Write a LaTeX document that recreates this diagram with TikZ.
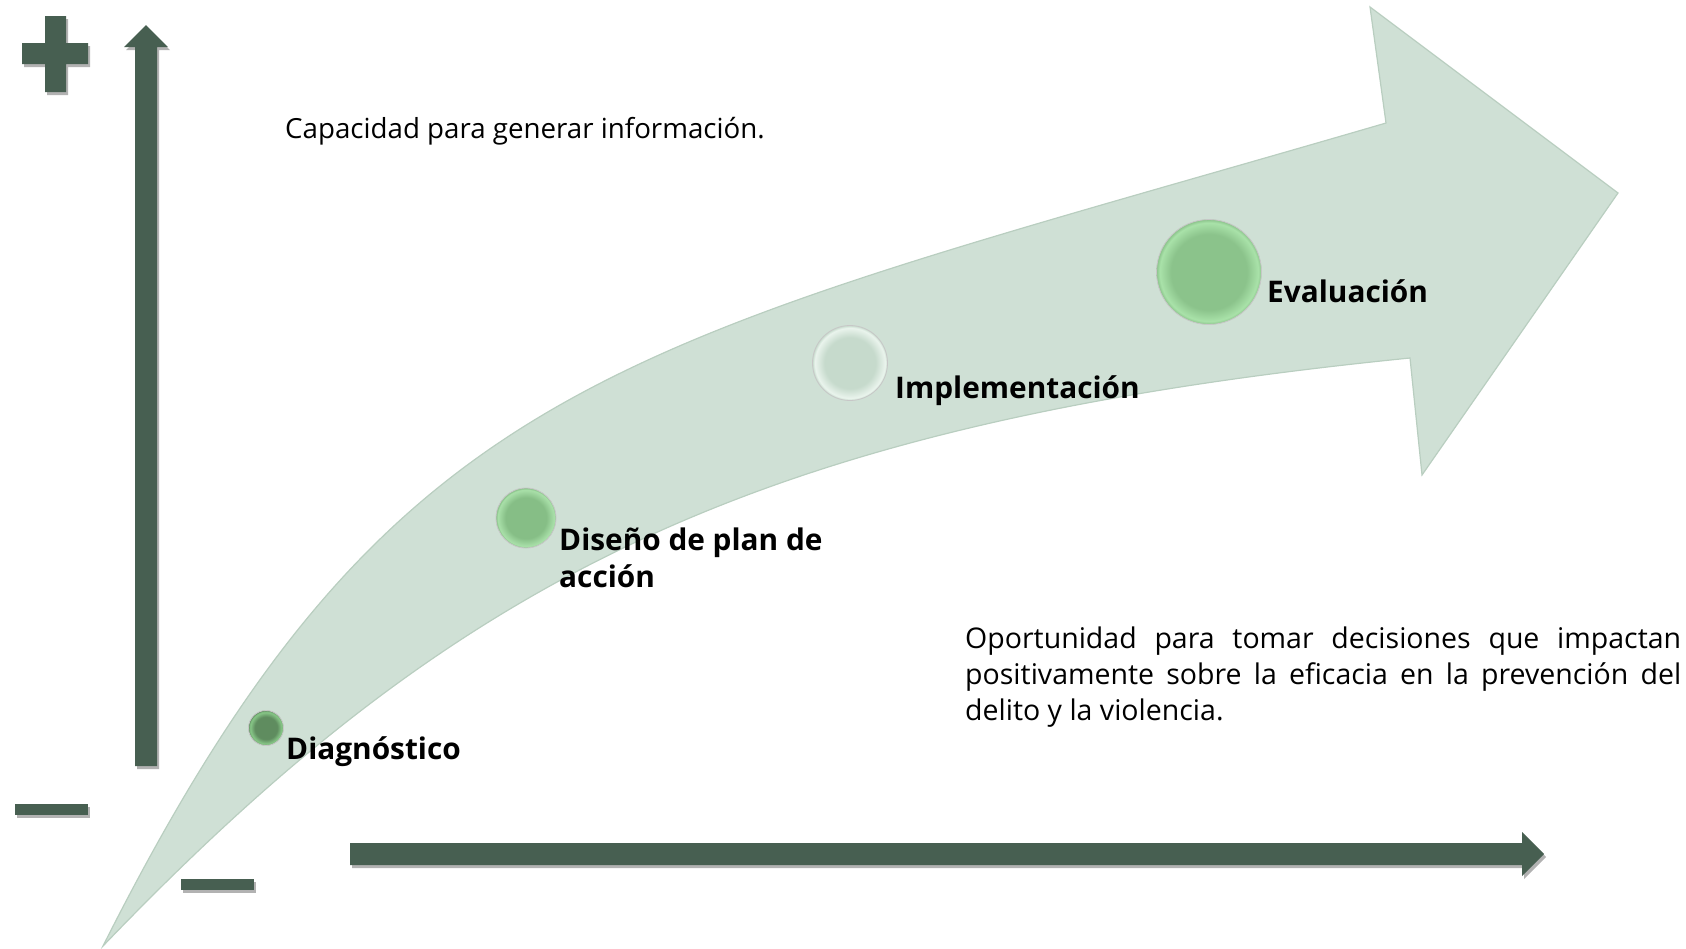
\documentclass[tikz,border=0pt]{standalone}
\usepackage{fontspec}
\setmainfont{Open Sans}
\usetikzlibrary{shadows}
\hyphenpenalty=10000
\exhyphenpenalty=10000
\definecolor{axisgreen}{HTML}{475F51}
\definecolor{bandgreen}{HTML}{CFE0D5}
\definecolor{bandedge}{HTML}{B9CEC0}
\definecolor{dotAin}{HTML}{5F8C5F}
\definecolor{dotAout}{HTML}{8ACB8A}
\definecolor{dotBin}{HTML}{86BE86}
\definecolor{dotBout}{HTML}{A9E0A9}
\definecolor{dotCin}{HTML}{C6DACC}
\definecolor{dotCout}{HTML}{EAF4ED}
\definecolor{dotDin}{HTML}{8BC38B}
\definecolor{dotDout}{HTML}{A9E2A9}
\pgfdeclareradialshading{dotAshade}{\pgfpoint{0bp}{0bp}}{color(0bp)=(dotAin); color(16bp)=(dotAin); color(23bp)=(dotAout); color(25bp)=(dotAin); color(50bp)=(dotAin)}
\pgfdeclareradialshading{dotBshade}{\pgfpoint{0bp}{0bp}}{color(0bp)=(dotBin); color(17bp)=(dotBin); color(23.5bp)=(dotBout); color(25bp)=(dotBin); color(50bp)=(dotBin)}
\pgfdeclareradialshading{dotCshade}{\pgfpoint{0bp}{0bp}}{color(0bp)=(dotCin); color(17bp)=(dotCin); color(23.5bp)=(dotCout); color(25bp)=(dotCin); color(50bp)=(dotCin)}
\pgfdeclareradialshading{dotDshade}{\pgfpoint{0bp}{0bp}}{color(0bp)=(dotDin); color(18bp)=(dotDin); color(23.5bp)=(dotDout); color(25bp)=(dotDin); color(50bp)=(dotDin)}
\tikzset{
  axisshape/.style={fill=axisgreen, drop shadow={opacity=0.3, shadow xshift=2pt, shadow yshift=-3pt, fill=black}},
  stepdot/.style={circle, inner sep=0pt, minimum size=#1, draw=black!22, line width=0.8pt},
  steplabel/.style={anchor=base west, inner sep=0pt, font=\fontsize{29.8}{37}\selectfont\bfseries, align=left},
  plaintext/.style={anchor=base west, inner sep=0pt, font=\fontsize{27.7}{36}\selectfont}
}
\begin{document}
\begin{tikzpicture}[x=1pt, y=-1pt]
\useasboundingbox (0,0) rectangle (1686,948);
% band arrow
\fill[bandgreen, draw=bandedge, line width=1.2pt]
  (103,946) .. controls (394,368) and (618,347) .. (1386,123)
  -- (1370,7) -- (1618,193) -- (1422,475) -- (1410,358)
  .. controls (763,423) and (462,572) .. (103,946)
  -- cycle;
% axes
\path[axisshape] (45,16) -- (66,16) -- (66,43) -- (88,43) -- (88,64) -- (66,64) -- (66,92) -- (45,92) -- (45,64) -- (22,64) -- (22,43) -- (45,43) -- cycle;
\path[axisshape] (135,766) -- (135,47) -- (124,47) -- (146,25) -- (168,47) -- (157,47) -- (157,766) -- cycle;
\path[axisshape] (350,843) -- (1522,843) -- (1522,832) -- (1544,854) -- (1522,876) -- (1522,865) -- (350,865) -- cycle;
\path[axisshape] (15,804) rectangle (88,815);
\path[axisshape] (181,879) rectangle (254,890);
% step dots
\node[stepdot=35pt, shading=dotAshade] (d1) at (266,728) {};
\node[stepdot=60pt, shading=dotBshade] (d2) at (526,518) {};
\node[stepdot=75pt, shading=dotCshade] (d3) at (850,363) {};
\node[stepdot=105pt, shading=dotDshade] (d4) at (1209,272) {};
% labels
\node[steplabel] (l1) at (286,759) {Diagnóstico};
\node[steplabel] (l2) at (559,587) {Diseño de plan de\\acción};
\node[steplabel] (l3) at (895,398) {Implementación};
\node[steplabel] (l4) at (1267,302) {Evaluación};
\node[plaintext] (t1) at (285,138) {Capacidad para generar información.};
\node[plaintext, font=\fontsize{28.5}{36}\selectfont, text width=716pt, align=justify] (t2) at (965,648) {Oportunidad para tomar decisiones que impactan\linebreak positivamente sobre la eficacia en la prevención del\linebreak delito y la violencia.};
\end{tikzpicture}
\end{document}
